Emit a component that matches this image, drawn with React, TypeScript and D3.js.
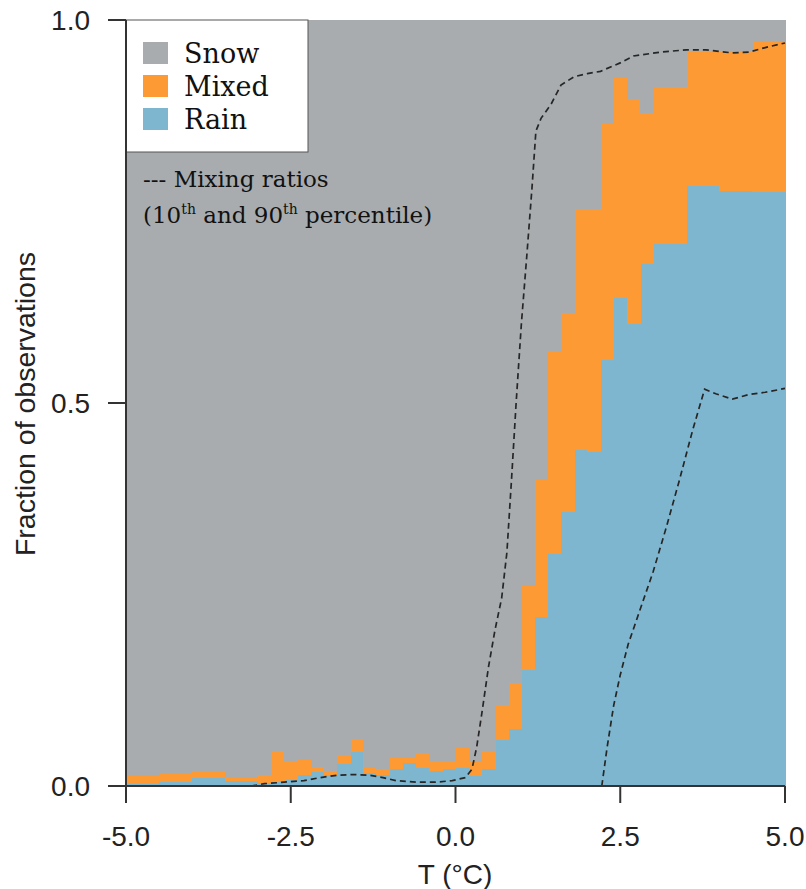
import React from "react";
import * as d3 from "d3";

// bin edges (°C) – wider bins at the tails
const binEdges = [
  -5, -4.5, -4, -3.5, -3, -2.8, -2.6, -2.4, -2.2, -2.0, -1.8, -1.6, -1.4, -1.2,
  -1.0, -0.8, -0.6, -0.4, -0.2, 0, 0.2, 0.4, 0.6, 0.8, 1.0, 1.2, 1.4, 1.6, 1.8,
  2.0, 2.2, 2.4, 2.6, 2.8, 3.0, 3.5, 4.0, 4.5, 5.0,
];

// fraction of rain per bin
const rainFrac = [
  0.002, 0.005, 0.011, 0.006, 0.004, 0.005, 0.008, 0.014, 0.018, 0.014, 0.029,
  0.044, 0.017, 0.014, 0.022, 0.03, 0.023, 0.019, 0.022, 0.024, 0.013, 0.022,
  0.06, 0.074, 0.151, 0.221, 0.303, 0.358, 0.438, 0.436, 0.556, 0.637, 0.603,
  0.681, 0.708, 0.783, 0.777, 0.775,
];

// fraction of mixed per bin
const mixedFrac = [
  0.011, 0.011, 0.009, 0.004, 0.01, 0.041, 0.024, 0.02, 0.007, 0.005, 0.011,
  0.018, 0.007, 0.008, 0.014, 0.006, 0.02, 0.013, 0.01, 0.026, 0.018, 0.024,
  0.046, 0.06, 0.11, 0.178, 0.265, 0.26, 0.315, 0.317, 0.308, 0.287, 0.294,
  0.198, 0.204, 0.177, 0.183, 0.196,
];

// mixing ratio percentiles [T, fraction]
const p90: [number, number][] = [
  [-3.1, 0.0], [-2.9, 0.003], [-2.6, 0.005], [-2.3, 0.007], [-2.05, 0.011],
  [-1.8, 0.014], [-1.55, 0.015], [-1.3, 0.014], [-1.1, 0.011], [-0.9, 0.007],
  [-0.6, 0.005], [-0.3, 0.005], [-0.05, 0.007], [0.15, 0.011], [0.25, 0.022],
  [0.32, 0.05], [0.4, 0.095], [0.5, 0.155], [0.6, 0.204], [0.7, 0.245],
  [0.78, 0.305], [0.85, 0.4], [0.92, 0.5], [1.0, 0.604], [1.08, 0.69],
  [1.16, 0.78], [1.22, 0.855], [1.3, 0.872], [1.45, 0.89], [1.6, 0.915],
  [1.8, 0.926], [2.0, 0.93], [2.2, 0.933], [2.5, 0.944], [2.7, 0.953],
  [3.1, 0.958], [3.5, 0.961], [3.8, 0.961], [4.2, 0.957], [4.45, 0.958],
  [4.7, 0.964], [5.0, 0.97],
];

const p10: [number, number][] = [
  [2.22, 0], [2.3, 0.05], [2.4, 0.105], [2.5, 0.145], [2.62, 0.185],
  [2.8, 0.23], [3.0, 0.28], [3.2, 0.338], [3.4, 0.4], [3.6, 0.465],
  [3.78, 0.518], [3.95, 0.512], [4.2, 0.505], [4.45, 0.511], [4.7, 0.514],
  [5.0, 0.519],
];

const xTicks = [-5, -2.5, 0, 2.5, 5];
const yTicks = [0, 0.5, 1];
const keys = ["rain", "mixed", "snow"];
const colors: Record<string, string> = {
  snow: "#a8acaf",
  mixed: "#fd9a33",
  rain: "#7fb6cf",
};
const legendItems = [
  { key: "snow", label: "Snow" },
  { key: "mixed", label: "Mixed" },
  { key: "rain", label: "Rain" },
];

export default function App() {
  const width = 806;
  const height = 889;
  const left = 126;
  const right = 785;
  const top = 20;
  const bottom = 786;

  const x = d3.scaleLinear().domain([-5, 5]).range([left, right]);
  const y = d3.scaleLinear().domain([0, 1]).range([bottom, top]);

  const rows = rainFrac.map((r, i) => ({
    x0: binEdges[i],
    x1: binEdges[i + 1],
    rain: r,
    mixed: mixedFrac[i],
    snow: 1 - r - mixedFrac[i],
  }));
  const series = d3.stack<any>().keys(keys)(rows);

  const line = d3
    .line<[number, number]>()
    .x((d) => x(d[0]))
    .y((d) => y(d[1]));

  const sans = "'Liberation Sans', Arial, sans-serif";
  const serif = "'DejaVu Serif', 'Liberation Serif', serif";

  return (
    <svg
      width={width}
      height={height}
      style={{ position: "absolute", left: 0, top: 0, background: "#fff" }}
    >
      <g shapeRendering="crispEdges">
        {series.map((s) => (
          <g key={s.key} fill={colors[s.key]}>
            {s.map((d, i) => (
              <rect
                key={i}
                x={x(d.data.x0)}
                width={x(d.data.x1) - x(d.data.x0) + 0.5}
                y={y(d[1])}
                height={y(d[0]) - y(d[1])}
              />
            ))}
          </g>
        ))}
      </g>

      {[p90, p10].map((pts, i) => (
        <path
          key={i}
          d={line(pts) || ""}
          fill="none"
          stroke="#262626"
          strokeWidth={1.7}
          strokeDasharray="6,4"
        />
      ))}

      {/* legend */}
      <rect x={left} y={top} width={182} height={132} fill="#fff" stroke="#555" strokeWidth={1} />
      {legendItems.map((it, i) => (
        <g key={it.key} transform={`translate(0,${i * 33})`}>
          <rect x={143} y={42} width={25} height={22} fill={colors[it.key]} />
          <text x={184} y={63} fontFamily={serif} fontSize={27} fill="#111">
            {it.label}
          </text>
        </g>
      ))}
      <text x={143} y={187} fontFamily={serif} fontSize={23} fill="#111">
        --- Mixing ratios
      </text>
      <text x={143} y={223} fontFamily={serif} fontSize={23} fill="#111">
        (10<tspan fontSize={14} dy={-9}>th</tspan>
        <tspan dy={9}> and 90</tspan>
        <tspan fontSize={14} dy={-9}>th</tspan>
        <tspan dy={9}> percentile)</tspan>
      </text>

      {/* axes */}
      <line x1={left} x2={left} y1={top} y2={bottom} stroke="#333" strokeWidth={2} />
      <line x1={left} x2={right} y1={bottom} y2={bottom} stroke="#333" strokeWidth={2} />
      {yTicks.map((t) => (
        <g key={t}>
          <line x1={108} x2={left} y1={y(t)} y2={y(t)} stroke="#333" strokeWidth={2} />
          <text
            x={90}
            y={y(t)}
            dy="0.36em"
            textAnchor="end"
            fontFamily={sans}
            fontSize={28}
            fill="#222"
          >
            {t.toFixed(1)}
          </text>
        </g>
      ))}
      {xTicks.map((t) => (
        <g key={t}>
          <line x1={x(t)} x2={x(t)} y1={bottom} y2={803} stroke="#333" strokeWidth={2} />
          <text
            x={x(t)}
            y={846}
            textAnchor="middle"
            fontFamily={sans}
            fontSize={28}
            fill="#222"
          >
            {t.toFixed(1)}
          </text>
        </g>
      ))}
      <text
        x={455}
        y={884}
        textAnchor="middle"
        fontFamily={sans}
        fontSize={28}
        fill="#222"
      >
        T (°C)
      </text>
      <text
        transform={`translate(35,404) rotate(-90)`}
        textAnchor="middle"
        fontFamily={sans}
        fontSize={28.5}
        fill="#222"
      >
        Fraction of observations
      </text>
    </svg>
  );
}
